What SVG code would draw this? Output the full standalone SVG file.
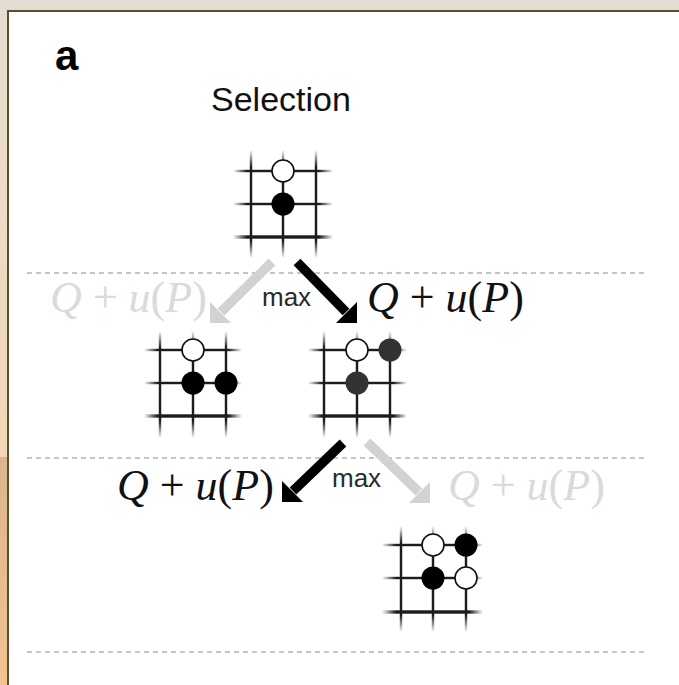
<svg xmlns="http://www.w3.org/2000/svg" width="679" height="685" viewBox="0 0 679 685">
<defs>
<linearGradient id="stripTop" x1="0" y1="0" x2="0" y2="1">
<stop offset="0" stop-color="#e3ddd1"/>
<stop offset="0.25" stop-color="#e9dccb"/>
<stop offset="1" stop-color="#f2d7b6"/>
</linearGradient>
<linearGradient id="stripBot" x1="0" y1="0" x2="0" y2="1">
<stop offset="0" stop-color="#dbb68c"/>
<stop offset="1" stop-color="#f2c392"/>
</linearGradient>
<linearGradient id="fv" x1="0" y1="0" x2="0" y2="1">
<stop offset="0" stop-color="#1a1a1a" stop-opacity="0"/>
<stop offset="0.16" stop-color="#1a1a1a" stop-opacity="1"/>
<stop offset="0.84" stop-color="#1a1a1a" stop-opacity="1"/>
<stop offset="1" stop-color="#1a1a1a" stop-opacity="0"/>
</linearGradient>
<linearGradient id="fh" x1="0" y1="0" x2="1" y2="0">
<stop offset="0" stop-color="#1a1a1a" stop-opacity="0"/>
<stop offset="0.14" stop-color="#1a1a1a" stop-opacity="1"/>
<stop offset="0.86" stop-color="#1a1a1a" stop-opacity="1"/>
<stop offset="1" stop-color="#1a1a1a" stop-opacity="0"/>
</linearGradient>
<filter id="soft" x="-10%" y="-10%" width="120%" height="120%">
<feGaussianBlur stdDeviation="0.6"/>
</filter>
</defs>
<style>
.v{fill:url(#fv)}
.h{fill:url(#fh)}
.w{fill:#ffffff;stroke:#111;stroke-width:1.6}
.b{fill:#000}
.d{fill:#333}
.dash{stroke:#c4c4c4;stroke-width:2;stroke-dasharray:5 4;fill:none}
.sans{font-family:"Liberation Sans",Arial,sans-serif}
.math{font-family:"Liberation Serif","Times New Roman",serif;font-size:44px}
.it{font-style:italic}
.blk{fill:#111}
.gry{fill:#dadada}
.shaftK{stroke:#000;stroke-width:9.5;fill:none}
.shaftG{stroke:#d2d2d2;stroke-width:9.5;fill:none}
.headK{fill:#000}
.headG{fill:#d2d2d2}
.max{font-size:26px;fill:#2a2a2a}
</style>

<!-- background frame -->
<rect x="0" y="0" width="679" height="685" fill="#e3ddd1"/>
<rect x="0" y="0" width="8" height="457" fill="url(#stripTop)"/>
<rect x="0" y="457" width="8" height="228" fill="url(#stripBot)"/>
<rect x="8" y="11" width="680" height="690" fill="#ffffff" stroke="#5b4d2e" stroke-width="2"/>

<!-- dashed separators -->
<g id="separators">
<line class="dash" x1="27" y1="273" x2="646" y2="273"/>
<line class="dash" x1="27" y1="458" x2="646" y2="458"/>
<line class="dash" x1="27" y1="652" x2="646" y2="652"/>
</g>

<!-- titles -->
<text class="sans" x="55" y="70" font-size="42" font-weight="bold" fill="#000">a</text>
<text class="sans" x="211" y="111" font-size="34" fill="#111">Selection</text>

<!-- root board -->
<g id="root" filter="url(#soft)">
<rect class="v" x="249.8" y="150" width="2.4" height="108"/>
<rect class="v" x="281.8" y="150" width="2.4" height="108"/>
<rect class="v" x="314.8" y="150" width="2.4" height="108"/>
<rect class="h" x="233" y="169.8" width="100" height="2.4"/>
<rect class="h" x="233" y="202.8" width="100" height="2.4"/>
<rect class="h" x="233" y="235.3" width="100" height="3.4"/>
<circle class="w" cx="283" cy="171" r="11"/>
<circle class="b" cx="283" cy="204" r="11.5"/>
</g>

<!-- child left -->
<g id="child-left" filter="url(#soft)">
<rect class="v" x="158.8" y="331" width="2.4" height="107"/>
<rect class="v" x="191.8" y="331" width="2.4" height="107"/>
<rect class="v" x="224.8" y="331" width="2.4" height="107"/>
<rect class="h" x="144" y="348.8" width="98" height="2.4"/>
<rect class="h" x="144" y="381.8" width="98" height="2.4"/>
<rect class="h" x="144" y="414.3" width="98" height="3.4"/>
<circle class="w" cx="193" cy="350" r="11"/>
<circle class="b" cx="193" cy="383" r="11.5"/>
<circle class="b" cx="226" cy="383" r="11.5"/>
</g>

<!-- child right -->
<g id="child-right" filter="url(#soft)">
<rect class="v" x="322.8" y="331" width="2.4" height="107"/>
<rect class="v" x="355.8" y="331" width="2.4" height="107"/>
<rect class="v" x="388.8" y="331" width="2.4" height="107"/>
<rect class="h" x="308" y="348.8" width="99" height="2.4"/>
<rect class="h" x="308" y="381.8" width="99" height="2.4"/>
<rect class="h" x="308" y="414.3" width="99" height="3.4"/>
<circle class="w" cx="357" cy="350" r="11"/>
<circle class="d" cx="390" cy="350" r="11.5"/>
<circle class="d" cx="357" cy="383" r="11.5"/>
</g>

<!-- leaf board -->
<g id="leaf" filter="url(#soft)">
<rect class="v" x="399.8" y="526" width="2.4" height="106"/>
<rect class="v" x="431.8" y="526" width="2.4" height="106"/>
<rect class="v" x="464.8" y="526" width="2.4" height="106"/>
<rect class="h" x="382" y="543.8" width="101" height="2.4"/>
<rect class="h" x="382" y="576.8" width="101" height="2.4"/>
<rect class="h" x="382" y="610.3" width="101" height="3.4"/>
<circle class="w" cx="433" cy="545" r="11"/>
<circle class="b" cx="466" cy="545" r="11.5"/>
<circle class="b" cx="433" cy="578" r="11.5"/>
<circle class="w" cx="466" cy="578" r="11"/>
</g>

<!-- connectors -->
<g id="connectors">
<line class="shaftG" x1="272" y1="262" x2="221" y2="312"/>
<polygon class="headG" points="210,323 231,323 210,302"/>
<line class="shaftK" x1="297" y1="262" x2="346" y2="312"/>
<polygon class="headK" points="357,323 336,323 357,302"/>
<line class="shaftK" x1="343" y1="443" x2="293" y2="491"/>
<polygon class="headK" points="282,502 303,502 282,481"/>
<line class="shaftG" x1="367" y1="442" x2="419" y2="492"/>
<polygon class="headG" points="430,503 409,503 430,482"/>
</g>

<!-- edge labels -->
<g id="labels">
<text class="sans max" x="262" y="306">max</text>
<text class="sans max" x="332" y="487">max</text>
<text class="math gry" x="50" y="312"><tspan class="it">Q</tspan> + <tspan class="it">u</tspan>(<tspan class="it">P</tspan>)</text>
<text class="math blk" x="367" y="312"><tspan class="it">Q</tspan> + <tspan class="it">u</tspan>(<tspan class="it">P</tspan>)</text>
<text class="math blk" x="117" y="500"><tspan class="it">Q</tspan> + <tspan class="it">u</tspan>(<tspan class="it">P</tspan>)</text>
<text class="math gry" x="448" y="500"><tspan class="it">Q</tspan> + <tspan class="it">u</tspan>(<tspan class="it">P</tspan>)</text>
</g>
</svg>
